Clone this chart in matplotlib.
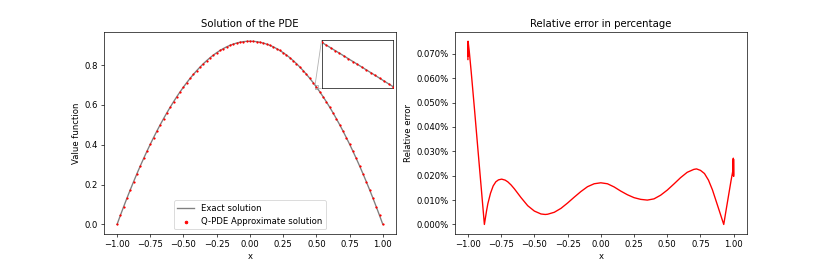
import numpy as np
import matplotlib.pyplot as plt
from matplotlib.ticker import PercentFormatter
from mpl_toolkits.axes_grid1.inset_locator import mark_inset

# --------------------------------------------------
# Data
# --------------------------------------------------

X = np.linspace(-1.0, 1.0, 81)

EXACT_VALUES = [
    0.0, 0.04543, 0.0897, 0.13283, 0.1748, 0.21563, 0.2553, 0.29383,
    0.3312, 0.36743, 0.4025, 0.43643, 0.4692, 0.50083, 0.5313, 0.56063,
    0.5888, 0.61583, 0.6417, 0.66643, 0.69, 0.71243, 0.7337, 0.75383,
    0.7728, 0.79063, 0.8073, 0.82283, 0.8372, 0.85043, 0.8625, 0.87343,
    0.8832, 0.89183, 0.8993, 0.90563, 0.9108, 0.91483, 0.9177, 0.91943,
    0.92,
    0.91943, 0.9177, 0.91483, 0.9108, 0.90563, 0.8993, 0.89183, 0.8832,
    0.87343, 0.8625, 0.85043, 0.8372, 0.82283, 0.8073, 0.79063, 0.7728,
    0.75383, 0.7337, 0.71243, 0.69, 0.66643, 0.6417, 0.61583, 0.5888,
    0.56063, 0.5313, 0.50083, 0.4692, 0.43643, 0.4025, 0.36743, 0.3312,
    0.29383, 0.2553, 0.21563, 0.1748, 0.13283, 0.0897, 0.04543, 0.0,
]

# approximation is indistinguishable from the exact curve at this scale
APPROX_VALUES = list(EXACT_VALUES)

# zoomed window of the inset
INSET_X = np.linspace(0.49, 0.51, 17)
INSET_EXACT = [
    0.69911, 0.69798, 0.69685, 0.69571, 0.69458, 0.69344, 0.69229, 0.69115,
    0.69, 0.68885, 0.68769, 0.68654, 0.68538, 0.68421, 0.68305, 0.68188,
    0.68071,
]
INSET_APPROX = [
    0.69912, 0.69797, 0.69686, 0.69570, 0.69459, 0.69343, 0.69230, 0.69114,
    0.69001, 0.68884, 0.68770, 0.68653, 0.68539, 0.68420, 0.68306, 0.68187,
    0.68072,
]

# relative error in percent
ERR_X = [
    -1.0, -0.999, -0.998, -0.997, -0.995, -0.99, -0.975, -0.95, -0.925,
    -0.9, -0.876, -0.86, -0.85, -0.83, -0.81, -0.79, -0.77, -0.746, -0.72,
    -0.7, -0.675, -0.65, -0.6, -0.55, -0.5, -0.45, -0.418, -0.4, -0.35,
    -0.3, -0.25, -0.2, -0.15, -0.1, -0.05, 0.0, 0.05, 0.1, 0.15, 0.2,
    0.25, 0.3, 0.35, 0.4, 0.45, 0.5, 0.55, 0.6, 0.65, 0.7, 0.72, 0.75,
    0.78, 0.81, 0.84, 0.87, 0.9, 0.925, 0.94, 0.96, 0.98, 0.99, 0.995,
    0.997, 0.998, 0.999, 1.0,
]
ERR_VALUES = [
    0.0677, 0.0752, 0.0690, 0.0745, 0.0735, 0.0712, 0.0625, 0.0470, 0.0310,
    0.0152, 0.0000, 0.0055, 0.0085, 0.0128, 0.0158, 0.0175, 0.0183, 0.0186,
    0.0182, 0.0175, 0.0162, 0.0146, 0.0110, 0.0077, 0.0055, 0.0043, 0.0041,
    0.0042, 0.0050, 0.0066, 0.0088, 0.0112, 0.0135, 0.0155, 0.0167, 0.0171,
    0.0167, 0.0154, 0.0137, 0.0122, 0.0110, 0.0103, 0.0100, 0.0105, 0.0120,
    0.0141, 0.0166, 0.0192, 0.0214, 0.0226, 0.0228, 0.0222, 0.0209, 0.0182,
    0.0142, 0.0092, 0.0042, 0.0000, 0.0050, 0.0115, 0.0180, 0.0210, 0.0225,
    0.0272, 0.0200, 0.0268, 0.0198,
]

# --------------------------------------------------
# Figure
# --------------------------------------------------

DPI = 61
fig, (ax1, ax2) = plt.subplots(1, 2, figsize=(830 / DPI, 267 / DPI), dpi=DPI)
fig.subplots_adjust(bottom=0.125)

ax1.plot(X, EXACT_VALUES, color="gray", linewidth=1.6, label="Exact solution")
ax1.scatter(X, APPROX_VALUES, color="red", s=2.5, zorder=3,
            label="Q-PDE Approximate solution")
ax1.set_title("Solution of the PDE")
ax1.set_xlabel("x")
ax1.set_ylabel("Value function")
ax1.legend(loc="lower center", markerscale=2)

axins = ax1.inset_axes([0.745, 0.72, 0.245, 0.24])
axins.plot(INSET_X, INSET_EXACT, color="gray", linewidth=1.6)
axins.scatter(INSET_X, INSET_APPROX, color="red", s=2.5, zorder=3)
axins.set_xlim(0.49, 0.51)
axins.set_ylim(0.68, 0.70)
axins.set_xticks([])
axins.set_yticks([])
mark_inset(ax1, axins, loc1=2, loc2=3, fc="none", ec="0.7")

ax2.plot(ERR_X, ERR_VALUES, color="red", linewidth=1.6)
ax2.set_title("Relative error in percentage")
ax2.set_xlabel("x")
ax2.set_ylabel("Relative error")
ax2.yaxis.set_major_formatter(PercentFormatter(xmax=100, decimals=3))

fig.savefig("out.png", dpi=DPI)
